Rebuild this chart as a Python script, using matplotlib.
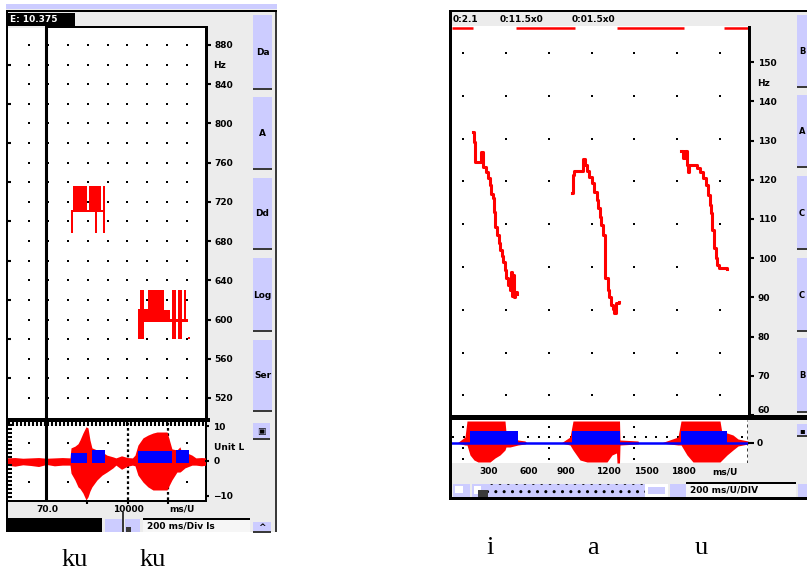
import matplotlib
matplotlib.use('Agg')
import matplotlib.pyplot as plt
from matplotlib.patches import Rectangle
from matplotlib.ticker import FixedLocator, MultipleLocator
import numpy as np

W, H = 807, 571
RED = '#ff0000'
BLUE = '#0000ff'
LAV = '#ccccff'
GRAY = '#ececec'
DARK = '#3a3a3a'

# ---------------- left recording: "ku ku" (pitch frames, Hz) ----------------
ku1_ms = [630, 650, 670, 690, 710, 730, 750, 770, 790, 810, 830, 850, 870,
          890, 910, 930, 950]
ku1_top = [712, 736, 736, 736, 736, 736, 736, 736, 712, 736, 736, 736, 736,
           736, 736, 712, 736]
ku1_bot = [688, 710, 710, 710, 710, 710, 710, 710, 710, 710, 710, 710, 688,
           710, 710, 710, 688]

ku2_ms = [1310, 1330, 1350, 1370, 1390, 1410, 1430, 1450, 1470, 1490, 1510,
          1530, 1550, 1570, 1590, 1610, 1630, 1650, 1670, 1690, 1710, 1730,
          1750, 1770, 1790, 1810]
ku2_top = [611, 630, 630, 611, 611, 630, 630, 630, 630, 630, 630, 630, 630,
           610, 610, 610, 601, 630, 630, 601, 630, 630, 601, 630, 601, 582]
ku2_bot = [580, 580, 580, 597, 597, 597, 597, 597, 597, 597, 597, 597, 597,
           597, 597, 597, 597, 580, 580, 597, 580, 580, 597, 597, 597, 580]

left_hz_ticks = [880, 840, 800, 760, 720, 680, 640, 600, 560, 520]

# waveform envelope of the left recording
wav_l_ms = [-20, 60, 140, 220, 300, 380, 460, 540, 618, 628, 668, 699, 719,
            749, 780, 800, 820, 840, 891, 942, 992, 1053, 1083, 1140, 1200,
            1250, 1276, 1306, 1357, 1407, 1458, 1499, 1600, 1610, 1650, 1701,
            1731, 1741, 1782, 1853, 1893, 1950, 1995]
wav_l_up = [0.9, 1.0, 0.8, 0.9, 1.0, 0.8, 0.9, 1.0, 0.9, 3.8, 4.3, 5.0, 6.1,
            8.1, 9.9, 9.6, 6.1, 3.8, 3.2, 2.6, 1.7, 1.2, 0.9, 1.5, 1.0, 0.9,
            1.7, 4.6, 6.7, 7.5, 8.1, 8.4, 8.4, 7.5, 3.5, 3.2, 4.1, 3.2, 2.6,
            1.7, 0.9, 1.0, 0.9]
wav_l_lo = [-1.2, -1.5, -1.1, -1.3, -1.6, -1.0, -1.4, -1.2, -1.2, -3.5, -5.5,
            -7.5, -8.0, -9.3, -11.3, -10.4, -8.7, -7.5, -5.5, -4.1, -3.2, -2.0,
            -1.2, -2.4, -1.5, -1.2, -1.4, -4.1, -6.1, -7.5, -8.4, -8.4, -8.4,
            -7.8, -5.5, -3.2, -3.2, -3.0, -2.0, -1.2, -1.2, -1.4, -1.2]

# blue energy bars (start, end, level)
ku_bar_start = [628, 840, 1306, 1690]
ku_bar_end = [790, 972, 1650, 1822]
ku_bar_top = [2.3, 3.2, 2.9, 3.2]

# ---------------- right recording: "i a u" (pitch contours, Hz) ----------------
i_ms = [220, 230, 240, 300, 320, 350, 370, 390, 400, 420, 430, 440, 460, 480,
        490, 510, 520, 540, 550, 570, 590, 600, 610, 620, 630, 640, 660]
i_hz = [132.2, 129.6, 124.5, 127.1, 123.2, 122.0, 120.4, 118.6, 116.3, 115.3,
        111.8, 107.9, 105.9, 103.8, 102.1, 100.5, 99.0, 97.0, 94.9, 93.1,
        91.9, 96.5, 90.3, 95.7, 90.1, 91.4, 90.8]

a_ms = [1210, 1220, 1230, 1320, 1340, 1360, 1380, 1410, 1430, 1460, 1470,
        1490, 1500, 1520, 1540, 1570, 1580, 1600, 1620, 1630, 1650, 1680]
a_hz = [116.6, 121.2, 122.2, 125.3, 123.7, 122.2, 120.7, 119.1, 116.9, 114.8,
        112.8, 110.5, 108.4, 105.9, 94.9, 91.9, 90.1, 88.0, 87.0, 86.0, 88.5,
        88.8]

u_ms = [2300, 2320, 2340, 2360, 2370, 2380, 2460, 2490, 2520, 2550, 2570,
        2590, 2600, 2610, 2630, 2650, 2660, 2680, 2760]
u_hz = [127.3, 125.5, 127.3, 123.7, 122.0, 123.7, 123.0, 122.0, 120.4, 118.6,
        116.1, 113.5, 111.5, 107.2, 102.6, 100.0, 98.2, 97.5, 97.2]

right_hz_ticks = [150, 140, 130, 120, 110, 100, 90, 80, 70, 60]
voiced_spans = [(10, 220), (650, 1240), (1660, 2330), (2730, 2980)]

wav_r_ms = [0, 60, 140, 160, 190, 230, 270, 390, 440, 490, 540, 550, 590,
            670, 740, 760, 900, 1100, 1190, 1220, 1290, 1360, 1560, 1610,
            1655, 1660, 1685, 1690, 1870, 1880, 2100, 2270, 2300, 2360, 2420,
            2690, 2710, 2760, 2820, 2870, 2970]
wav_r_up = [0, 0, 6, 22, 22, 22, 22, 22, 22, 22, 22, 11, 11, 3, 2, 0, 0, 0, 6,
            22, 22, 22, 22, 22, 22, 22, 22, 3, 2, 0, 0, 6, 22, 22, 22, 22, 10,
            10, 8, 4, 2]
wav_r_lo = [0, 0, -2, -2, -12, -17, -19, -19, -15, -12, -7, -4, -4, -2, -1, 0,
            0, 0, -2, -7, -17, -19, -19, -12, -10, -20, -20, -2, -1, 0, 0, -2,
            -2, -12, -19, -19, -17, -12, -7, -3, -1]

iau_bar_start = [190, 1210, 2300]
iau_bar_end = [670, 1690, 2760]
iau_bar_top = [12, 12, 12]

# ---------------------------------------------------------------------------
fig = plt.figure(figsize=(W / 100, H / 100), dpi=100)
fig.patch.set_facecolor('white')

bg = fig.add_axes([0, 0, 1, 1])
bg.set_xlim(0, W)
bg.set_ylim(H, 0)
bg.axis('off')

PIX = dict(family='DejaVu Sans', weight='bold', size=6.5)
DOT = dict(marker='s', ms=2.0, mew=0, color='black', ls='none', zorder=0.5)


def rect(x0, y0, x1, y1, color, **kw):
    bg.add_patch(Rectangle((x0, y0), x1 - x0, y1 - y0, facecolor=color,
                           edgecolor=kw.pop('ec', 'none'), lw=0, **kw))


def px_axes(x0, y0, x1, y1):
    a = fig.add_axes([x0 / W, 1 - y1 / H, (x1 - x0) / W, (y1 - y0) / H])
    a.set_facecolor('white')
    for s in a.spines.values():
        s.set_visible(False)
    return a


def button(x0, x1, y0, y1, glyph, size=6.5):
    rect(x0, y0, x1, y1, LAV)
    rect(x0, y1 - 2, x1, y1, DARK)
    bg.text((x0 + x1) / 2, (y0 + y1) / 2, glyph, ha='center', va='center',
            family='DejaVu Sans', weight='bold', size=size)


# ---------------- left window chrome ----------------
rect(6, 4, 277, 9, LAV)
rect(6, 9, 277, 532, GRAY)
rect(6, 10, 277, 12, 'black')
rect(6, 10, 8, 532, 'black')
rect(275, 12, 277, 532, DARK)
rect(8, 13, 75, 26, 'black')
bg.text(10, 20, 'E: 10.375', color='white', va='center', **PIX)
rect(45, 26, 208, 28, 'black')
rect(205, 26, 208, 422, 'black')
rect(6, 418, 210, 422, 'black')
rect(205, 418, 207, 502, 'black')
rect(6, 500, 207, 502, 'black')
bg.text(213, 65, 'Hz', va='center', **PIX)
for (y0, y1), g in zip([(15, 90), (97, 170), (178, 250), (258, 332),
                        (340, 412)], ['Da', 'A', 'Dd', 'Log', 'Ser']):
    button(253, 272, y0, y1, g)
button(253, 270, 423, 440, '\u25a3')
bg.text(214, 447, 'Unit L', va='center', **PIX)
bg.text(47, 509, '70.0', ha='center', va='center', **PIX)
bg.text(128, 509, '10000', ha='center', va='center', **PIX)
bg.text(182, 509, 'ms/U', ha='center', va='center', **PIX)
rect(7, 518, 102, 532, 'black')
rect(105, 519, 122, 532, LAV)
rect(122, 512, 124, 532, DARK)
rect(125, 519, 140, 532, LAV)
rect(126, 527, 131, 532, DARK)
rect(143, 518, 250, 520, 'black')
rect(143, 520, 250, 532, '#f6f6f6')
bg.text(147, 526, '200 ms/Div ls', va='center', **PIX)
button(253, 271, 522, 533, '^')

# ---------------- right window chrome ----------------
rect(449, 10, 807, 500, GRAY)
rect(449, 10, 807, 12, 'black')
rect(449, 10, 452, 500, 'black')
rect(748, 26, 751, 420, 'black')
rect(449, 415, 807, 420, 'black')
rect(449, 497, 807, 500, 'black')
bg.text(453, 19, '0:2.1', va='center', **PIX)
bg.text(500, 19, '0:11.5x0', va='center', **PIX)
bg.text(572, 19, '0:01.5x0', va='center', **PIX)
bg.text(757, 83, 'Hz', va='center', **PIX)
for (y0, y1), g in zip([(15, 88), (95, 168), (176, 250), (258, 332),
                        (338, 413)], ['B', 'A', 'C', 'C', 'B']):
    button(797, 807, y0, y1, g, size=6)
button(797, 807, 424, 437, '\u25aa', size=6)
for x, s in zip([489, 529, 566, 608, 646, 683, 725],
                ['300', '600', '900', '1200', '1500', '1800', 'ms/U']):
    bg.text(x, 472, s, ha='center', va='center', **PIX)
rect(453, 484, 470, 497, LAV)
rect(455, 486, 463, 493, 'white')
rect(472, 484, 488, 497, LAV)
rect(474, 486, 481, 494, 'white')
rect(478, 490, 488, 497, DARK)
bg.add_patch(Rectangle((488, 484), 157, 13, facecolor=LAV, edgecolor='black',
                       lw=0, hatch='..'))
rect(645, 484, 668, 497, 'white')
rect(648, 487, 665, 494, LAV)
rect(670, 484, 686, 497, LAV)
rect(686, 482, 796, 484, 'black')
rect(686, 484, 796, 497, '#f6f6f6')
bg.text(690, 490, '200 ms/U/DIV', va='center', **PIX)
rect(798, 484, 807, 497, LAV)

# captions
CAP = dict(family='Liberation Serif', size=19, va='baseline', ha='center')
bg.text(75, 566, 'ku', **CAP)
bg.text(153, 566, 'ku', **CAP)
bg.text(490, 554, 'i', **CAP)
bg.text(593, 554, 'a', **CAP)
bg.text(701, 554, 'u', **CAP)

# ---------------- left pitch panel ----------------
axL = px_axes(8, 28, 205, 418)
axL.set_xlim(-10, 1985)
axL.set_ylim(499.6, 897.3)
gx, gy = np.meshgrid(np.arange(200, 1801, 200), np.arange(520, 881, 20))
axL.plot(gx.ravel(), gy.ravel(), **DOT)
axL.bar(ku1_ms, np.subtract(ku1_top, ku1_bot), bottom=ku1_bot, width=20,
        align='edge', color=RED, linewidth=0)
axL.bar(ku2_ms, np.subtract(ku2_top, ku2_bot), bottom=ku2_bot, width=20,
        align='edge', color=RED, linewidth=0)
axL.axvline(375, color='black', lw=2.2)
axL.set_xticks([])
axL.set_yticks(left_hz_ticks)
axL.set_yticklabels([str(v) for v in left_hz_ticks])
axL.yaxis.set_minor_locator(FixedLocator(np.arange(520, 881, 20)))
axL.tick_params(axis='y', which='major', left=False, right=True,
                labelleft=False, labelright=True, direction='out', length=4,
                width=1.5, pad=3, labelsize=6.5)
axL.tick_params(axis='y', which='minor', left=True, right=False,
                direction='in', length=2, width=1.5)
for t in axL.get_yticklabels():
    t.set_fontweight('bold')

# ---------------- left waveform panel ----------------
axLW = px_axes(8, 422, 205, 500)
axLW.set_xlim(-10, 1985)
axLW.set_ylim(-11.3, 11.3)
wx, wy = np.meshgrid([200, 600, 1000, 1800], [5.2, -6.1])
axLW.plot(wx.ravel(), wy.ravel(), **DOT)
for m in [1205, 1610]:
    axLW.axvline(m, color='black', lw=1.6, ls=(0, (1.2, 1.2)), zorder=0.6)
axLW.fill_between(wav_l_ms, wav_l_lo, wav_l_up, color=RED, lw=0)
for s, e, t in zip(ku_bar_start, ku_bar_end, ku_bar_top):
    axLW.bar(s, t + 0.6, bottom=-0.6, width=e - s, align='edge', color=BLUE,
             lw=0)
axLW.axvline(375, color='black', lw=2.2)
axLW.set_xticks([790, 1205, 1610])
axLW.set_xticklabels([])
axLW.xaxis.set_minor_locator(MultipleLocator(40))
axLW.tick_params(axis='x', which='major', bottom=True, top=False,
                 direction='out', length=3, width=1.5)
axLW.tick_params(axis='x', which='minor', bottom=False, top=True,
                 direction='in', length=3, width=1.5)
axLW.set_yticks([10, 0, -10])
axLW.set_yticklabels(['10', '0', '\u221210'])
axLW.yaxis.set_minor_locator(MultipleLocator(1.15))
axLW.tick_params(axis='y', which='major', left=False, right=True,
                 labelleft=False, labelright=True, direction='out', length=3,
                 width=1.5, pad=3, labelsize=6.5)
axLW.tick_params(axis='y', which='minor', left=True, right=False,
                 direction='in', length=3, width=1.5)
for t in axLW.get_yticklabels():
    t.set_fontweight('bold')

# ---------------- right pitch panel ----------------
axR = px_axes(452, 26, 748, 415)
axR.set_xlim(10, 2970)
axR.set_ylim(60, 159.2)
rx, ry = np.meshgrid(np.linspace(120, 2690, 7), np.linspace(152.3, 65.0, 9))
axR.plot(rx.ravel(), ry.ravel(), **DOT)
for s, e in voiced_spans:
    axR.hlines(158.7, s, e, color=RED, lw=1.8)
for ms, hz in [(i_ms, i_hz), (a_ms, a_hz), (u_ms, u_hz)]:
    axR.plot(ms, hz, drawstyle='steps-post', color=RED, lw=2.2)
axR.set_xticks([])
axR.set_yticks(right_hz_ticks)
axR.set_yticklabels([str(v) for v in right_hz_ticks])
axR.tick_params(axis='y', left=False, right=True, labelleft=False,
                labelright=True, direction='out', length=4, width=1.5, pad=3,
                labelsize=6.5)
for t in axR.get_yticklabels():
    t.set_fontweight('bold')
axR.get_yticklabels()[-1].set_va('bottom')

# ---------------- right waveform panel ----------------
axRW = px_axes(452, 420, 748, 463)
axRW.set_xlim(10, 2970)
axRW.set_ylim(-20, 23)
dx, dy = np.meshgrid([120, 980, 1830, 2690], [16, -5, -16])
axRW.plot(dx.ravel(), dy.ravel(), **DOT)
dots6 = np.arange(20, 2970, 107)
axRW.plot(dots6, np.full(len(dots6), 6), **DOT)
axRW.axvline(2965, color='black', lw=1.8, ls=(0, (1.2, 1.2)))
axRW.fill_between(wav_r_ms, wav_r_lo, wav_r_up, color=RED, lw=0)
for s, e, t in zip(iau_bar_start, iau_bar_end, iau_bar_top):
    axRW.bar(s, t, bottom=0, width=e - s, align='edge', color=BLUE, lw=0)
axRW.axhline(0, color=BLUE, lw=1.8)
axRW.set_xticks([])
axRW.set_yticks([0])
axRW.set_yticklabels(['0'])
axRW.tick_params(axis='y', left=False, right=True, labelleft=False,
                 labelright=True, direction='out', length=4, width=1.5, pad=2,
                 labelsize=6.5)
for t in axRW.get_yticklabels():
    t.set_fontweight('bold')

fig.savefig('out.png', dpi=100)
